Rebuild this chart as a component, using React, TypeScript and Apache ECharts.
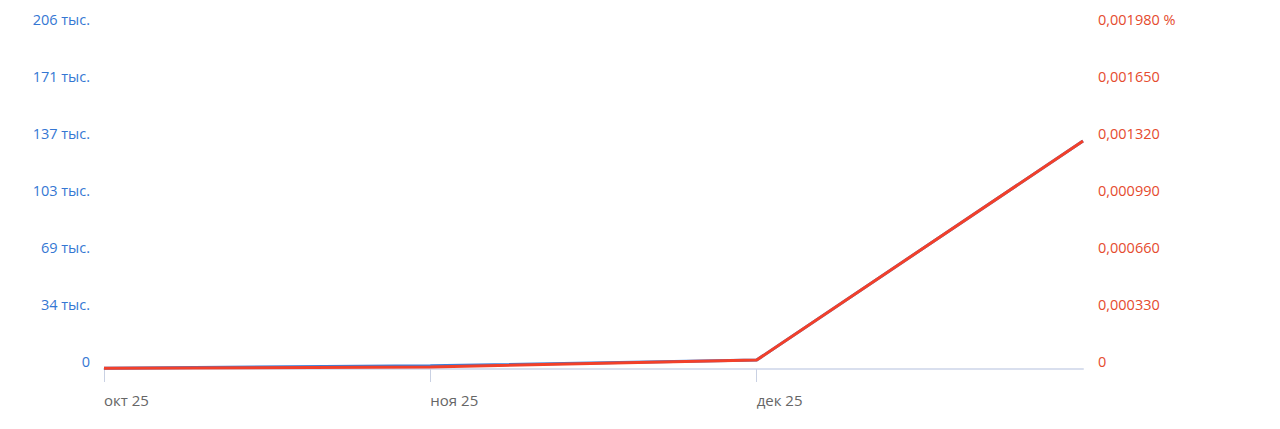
import React, { useEffect, useRef } from "react";
import * as echarts from "echarts";

const categories = ["окт 25", "ноя 25", "дек 25", "янв 26"];
const absoluteValues = [500, 1900, 5400, 137100];
const shareValues = [0.000004, 0.000012, 0.000052, 0.00132];
const leftTickLabels = ["0", "34 тыс.", "69 тыс.", "103 тыс.", "137 тыс.", "171 тыс.", "206 тыс."];
const rightTickLabels = ["0", "0,000330", "0,000660", "0,000990", "0,001320", "0,001650", "0,001980 %"];

const LEFT_MAX = 205650;
const RIGHT_MAX = 0.00198;

export default function App() {
  const ref = useRef<HTMLDivElement>(null);
  useEffect(() => {
    document.body.style.margin = "0";
    if (!ref.current) return;
    const chart = echarts.init(ref.current, null, { renderer: "svg" });
    const font = "'Open Sans', sans-serif";
    chart.setOption({
      animation: false,
      grid: { left: 104, right: 197, top: 27, bottom: 60 },
      xAxis: {
        type: "category",
        data: categories,
        boundaryGap: false,
        axisLine: { lineStyle: { color: "#d9dfee", width: 2 } },
        axisTick: {
          show: true,
          length: 13,
          interval: (i: number) => i < categories.length - 1,
          lineStyle: { color: "#c9d1e3", width: 1 },
        },
        axisLabel: {
          interval: 0,
          align: "left",
          margin: 23,
          color: "#666666",
          fontSize: 15,
          fontFamily: font,
          formatter: (v: string, i: number) => (i < categories.length - 1 ? v : ""),
        },
        splitLine: { show: false },
      },
      yAxis: [
        {
          type: "value",
          min: 0,
          max: LEFT_MAX,
          interval: LEFT_MAX / 6,
          axisLine: { show: false },
          axisTick: { show: false },
          splitLine: { show: false },
          axisLabel: {
            margin: 14,
            verticalAlign: "bottom",
            color: "#3577d3",
            fontSize: 14.5,
            fontFamily: font,
            formatter: (_v: number, i: number) => leftTickLabels[i] ?? "",
          },
        },
        {
          type: "value",
          min: 0,
          max: RIGHT_MAX,
          interval: RIGHT_MAX / 6,
          position: "right",
          axisLine: { show: false },
          axisTick: { show: false },
          splitLine: { show: false },
          axisLabel: {
            margin: 15,
            verticalAlign: "bottom",
            color: "#e54b2e",
            fontSize: 14.5,
            fontFamily: font,
            formatter: (_v: number, i: number) => rightTickLabels[i] ?? "",
          },
        },
      ],
      series: [
        {
          type: "line",
          yAxisIndex: 0,
          data: absoluteValues,
          showSymbol: false,
          lineStyle: { color: "#3b7fdb", width: 3 },
          z: 2,
        },
        {
          type: "line",
          yAxisIndex: 1,
          data: shareValues,
          showSymbol: false,
          lineStyle: { color: "#f2402a", width: 3 },
          z: 3,
        },
      ],
    });
    return () => chart.dispose();
  }, []);
  return <div ref={ref} style={{ width: 1280, height: 429 }} />;
}
